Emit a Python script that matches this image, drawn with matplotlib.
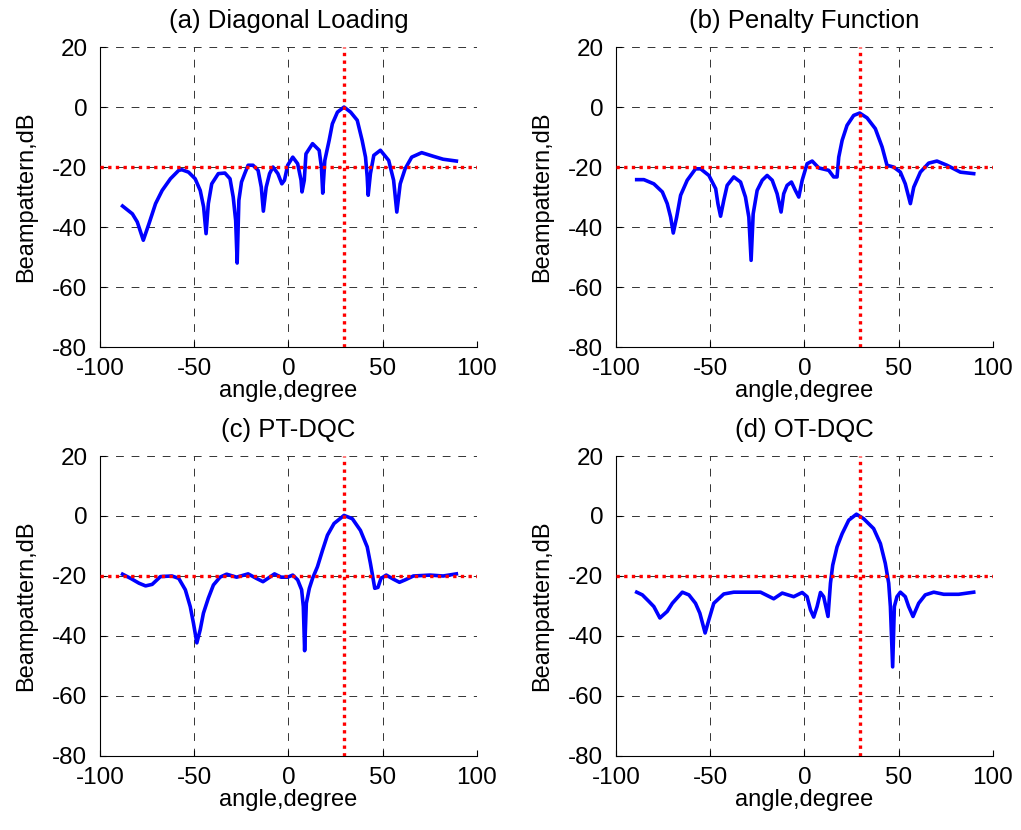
import matplotlib
matplotlib.use('Agg')
import matplotlib.pyplot as plt

plt.rcParams['font.family'] = ['Liberation Sans', 'DejaVu Sans']
plt.rcParams['axes.unicode_minus'] = False

# -------------------------
# Beampattern data
# -------------------------
ang_a = [-88, -82.8, -80.2, -77, -74, -70.5, -67, -62.6, -58.2, -56.5, -53, -49.5, -46.8, -45,
         -43.7, -42.5, -40.7, -37.2, -33.7, -31, -29.3, -28, -27.2, -26.3, -24.9, -23.2, -21.4,
         -18.8, -16.1, -14.4, -13.3, -11.8, -10, -8.2, -5.6, -3.5, -2.1, -0.4, 2.3, 4.9, 6.7,
         7.2, 8.4, 9.3, 12.8, 16.3, 17.5, 18.2, 19.3, 21.6, 23.3, 26, 29.5, 33, 36.5, 39.1,
         40.9, 41.8, 42.3, 43.5, 45.3, 48.8, 53.2, 55.8, 57.5, 59.3, 61.9, 65.4, 70.7, 76.8,
         82.1, 89.1]
bp_a = [-33, -35.6, -38.3, -44.4, -38.9, -32.2, -27.8, -23.9, -21.1, -20.9, -21.7, -23.9, -27.8,
        -33.3, -42.2, -32.2, -25.6, -22.2, -22, -23.9, -30, -37.8, -52, -31.1, -25, -22.2, -19.4,
        -19.4, -21.1, -26.7, -34.7, -26.7, -22.2, -20, -22.2, -25.6, -24.4, -19.4, -16.7, -18.9,
        -24.4, -28.3, -24.4, -15.6, -12.2, -14.4, -20, -28.7, -17.8, -11.1, -5.6, -1.7, 0, -1.7,
        -4.4, -11.1, -16.7, -23.3, -29.4, -22.2, -16.1, -14.4, -17.8, -24.4, -35, -25.6, -20.6,
        -16.7, -15.2, -16.4, -17.4, -18]

ang_b = [-89, -85.2, -79.9, -75.4, -72.8, -71, -69.6, -67.8, -65.7, -62.2, -57.8, -55.1, -50.7,
         -47.1, -45.9, -44.5, -42.8, -41, -37.5, -33.9, -31.3, -29.5, -28.3, -27.2, -25.1, -22.4,
         -19.8, -17.1, -14.5, -12.4, -11, -9.2, -6.9, -4.8, -3, -1.2, 1.4, 4.1, 7.6, 12.9, 15.5,
         17.3, 18.2, 20, 22.6, 26.1, 29.3, 33.2, 37.6, 41.2, 43.8, 47.3, 50.9, 53.5, 56.2, 58,
         61.5, 65.9, 70.3, 75.6, 82.7, 89.8]
bp_b = [-24.2, -24.2, -25.6, -28.3, -32.2, -36.7, -42, -36.7, -29.4, -24.4, -20.6, -20.6, -22.8,
        -27.2, -32.2, -36.4, -31.1, -26.1, -23.3, -25, -30, -36.7, -51.1, -35.6, -27.8, -24.4,
        -22.8, -24.4, -28.9, -35, -28.9, -26.1, -25, -27.8, -30, -24.4, -18.9, -18, -20.3, -21.1,
        -23.3, -23.3, -16.7, -11.1, -6.1, -2.8, -2, -3.6, -7.2, -13.3, -19.4, -20, -21.7, -25.6,
        -32.2, -26.7, -21.7, -18.7, -18, -19.4, -21.7, -22.2]

ang_c = [-88, -83.7, -79.3, -75.8, -72.3, -67.9, -61.8, -58.2, -54.7, -52.1, -50.4, -48.6, -46.8,
         -45.1, -42.5, -39.8, -36.3, -32.8, -27.5, -21.4, -17, -13.5, -10.9, -7.4, -3.9, -0.4,
         2.3, 4.9, 7, 7.9, 8.6, 9.5, 11.1, 12.8, 15.4, 18.1, 20.7, 24.2, 29.5, 33.9, 38.2, 41.8,
         43.5, 44.7, 45.8, 47.5, 49.1, 51.9, 55.8, 58.9, 61.9, 66.3, 75.1, 82.1, 89.1]
bp_c = [-19.4, -20.8, -22.4, -23.3, -22.8, -20.2, -20, -20.8, -24.6, -30.2, -35.7, -42.3, -37.9,
        -32.4, -27.4, -23, -20.4, -19.4, -20.4, -19.3, -20.8, -21.9, -20.8, -19.3, -20.4, -20.4,
        -19.7, -21.3, -24.6, -30.2, -44.9, -29.1, -24.1, -20.8, -16.9, -11.4, -6.4, -2.5, 0.2,
        -0.9, -4.8, -10.3, -15.8, -20.1, -24.1, -23.8, -20.8, -19.7, -21.1, -22.1, -21.3, -20,
        -19.7, -20, -19.3]

ang_d = [-89, -86, -82.5, -79.9, -76.7, -72.8, -70.1, -64.8, -61.3, -57.8, -55.5, -52.7, -50.7,
         -48.1, -42.8, -37.5, -23.3, -16.3, -11.8, -5.7, -1.2, 1.4, 3.2, 4.9, 6.7, 8.5, 10.2,
         12.5, 13.8, 15, 17.3, 20, 23.5, 27.6, 31.4, 36.7, 40.3, 42.9, 44.7, 45.6, 46.8, 47.7,
         49.1, 50.9, 53.5, 55.3, 57.6, 60.6, 64.1, 68.6, 73.9, 81.8, 89.8]
bp_d = [-25.4, -26.3, -28.5, -30.2, -34, -31.8, -29.1, -25.4, -26.3, -29.1, -32.4, -39, -34.6,
        -29.1, -26, -25.4, -25.4, -27.6, -25.7, -26.9, -25.5, -26.9, -31.3, -33.7, -30.2, -25.5,
        -26.9, -33.5, -22.4, -16.4, -10.3, -5.9, -1.4, 0.6, -0.9, -4.2, -9.2, -15.8, -22.4,
        -30.2, -50.3, -30.2, -26.9, -25.4, -26.9, -30.2, -33.5, -29.1, -26.3, -25.4, -26.1,
        -26.1, -25.4]

titles = ["(a) Diagonal Loading", "(b) Penalty Function", "(c) PT-DQC", "(d) OT-DQC"]
target_angle = 29.5
threshold_db = -20

# -------------------------
# Figure
# -------------------------
fig = plt.figure(figsize=(10.21, 8.30), dpi=100)
positions = [
    [0.0979, 0.5819, 0.3692, 0.3614],
    [0.6033, 0.5819, 0.3692, 0.3614],
    [0.0979, 0.0892, 0.3692, 0.3614],
    [0.6033, 0.0892, 0.3692, 0.3614],
]
curves = [(ang_a, bp_a), (ang_b, bp_b), (ang_c, bp_c), (ang_d, bp_d)]

for pos, (ang, bp), title in zip(positions, curves, titles):
    ax = fig.add_axes(pos)
    ax.plot(ang, bp, color='#0000ff', lw=2.6, zorder=3)
    ax.plot([target_angle, target_angle], [-80, 20], color='#ff0000', lw=2.4,
            linestyle=(0, (1, 1.3)), zorder=4)
    ax.plot([-100, 100], [threshold_db, threshold_db], color='#ff0000', lw=2.4,
            linestyle=(0, (1, 1.3)), zorder=4)

    ax.set_xlim(-100, 100)
    ax.set_ylim(-80, 20)
    ax.set_xticks([-100, -50, 0, 50, 100])
    ax.set_yticks([-80, -60, -40, -20, 0, 20])
    ax.grid(True, color='0.2', lw=0.7, linestyle=(0, (8, 8)))
    ax.set_axisbelow(True)
    for side in ['top', 'right']:
        ax.spines[side].set_visible(False)
    for side in ['left', 'bottom']:
        ax.spines[side].set_linewidth(0.8)
    ax.tick_params(direction='in', length=4, width=0.8, labelsize=17.5)
    ax.tick_params(axis='x', pad=8)
    ax.tick_params(axis='y', pad=9)

    ax.set_title(title, fontsize=18.5, pad=14)
    ax.set_xlabel("angle,degree", fontsize=17, labelpad=0)
    ax.set_ylabel("Beampattern,dB", fontsize=17, labelpad=11)

fig.savefig("out.png", dpi=100)
